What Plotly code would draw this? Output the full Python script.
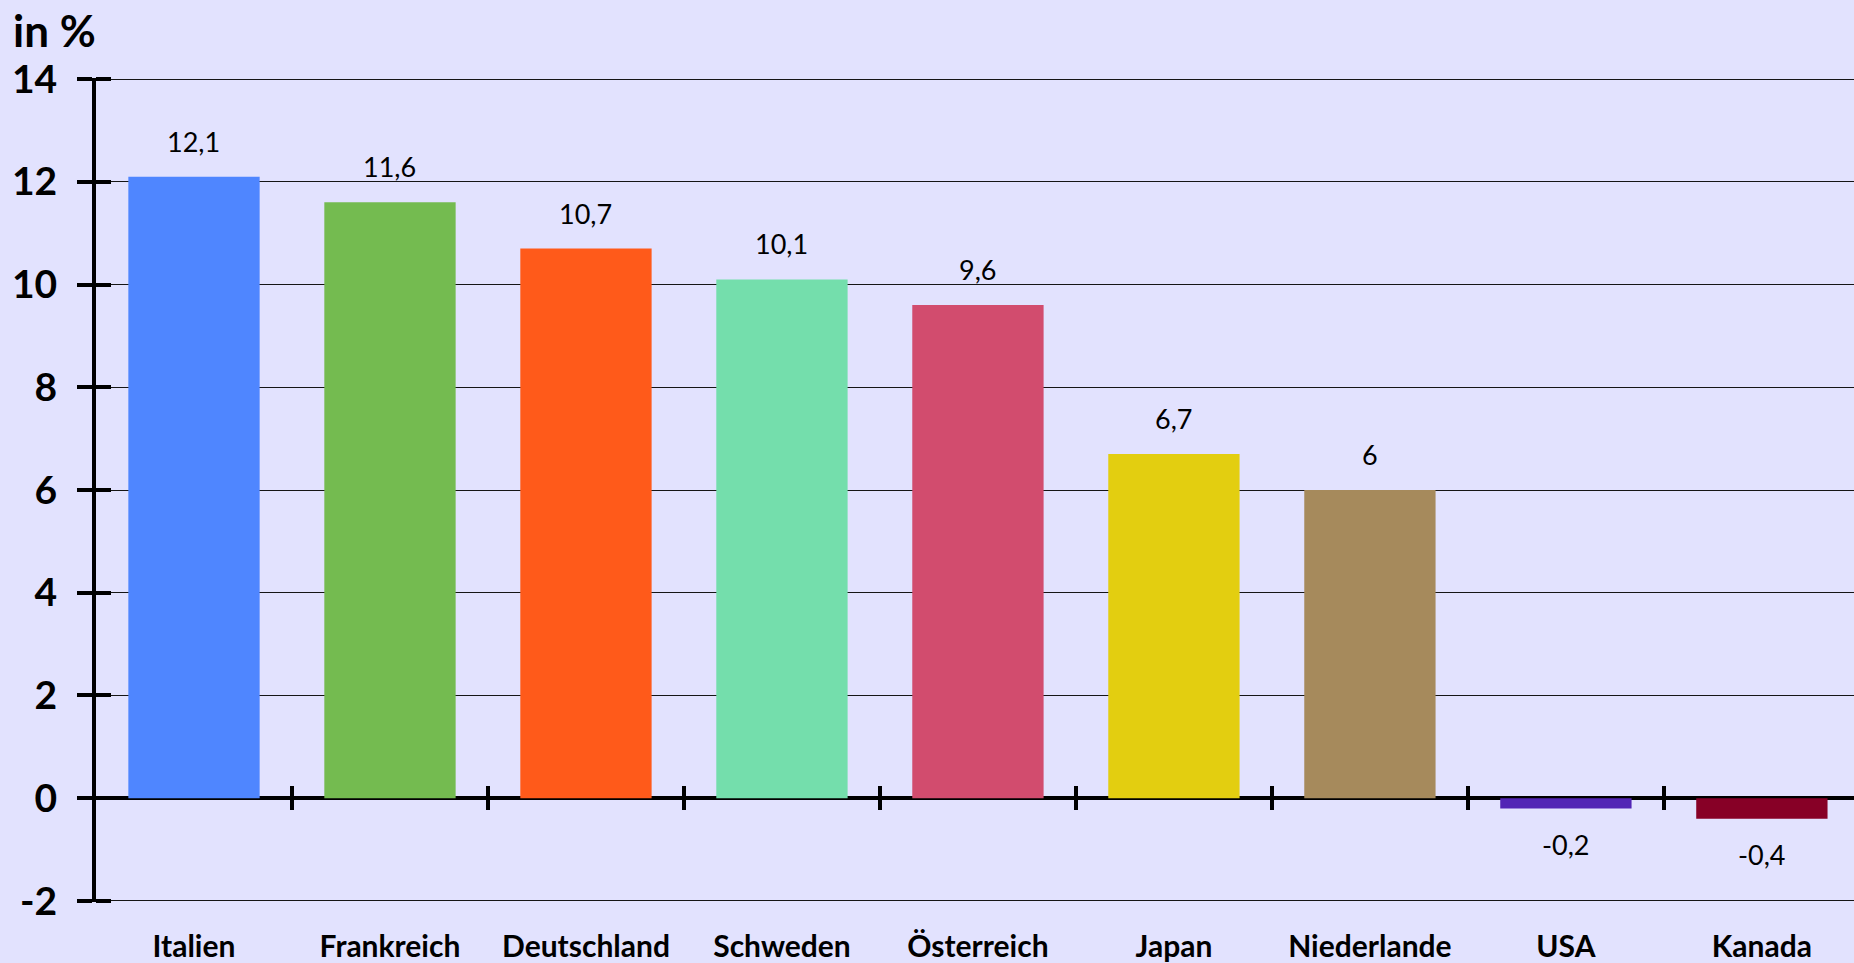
import plotly.graph_objects as go

categories = ["Italien", "Frankreich", "Deutschland", "Schweden", "Österreich",
              "Japan", "Niederlande", "USA", "Kanada"]
values = [12.1, 11.6, 10.7, 10.1, 9.6, 6.7, 6.0, -0.2, -0.4]
colors = ["#4F86FF", "#74BB50", "#FF5A1A", "#74DEAC", "#D24C6E",
          "#E3CE10", "#A68A5C", "#5225B5", "#870026"]
y_ticks = [-2, 0, 2, 4, 6, 8, 10, 12, 14]
y_title = "in %"

BG = "#E2E2FE"
FONT = "Lato, 'Open Sans', sans-serif"

def fmt(v):
    s = ("%g" % v).replace(".", ",")
    return s

n = len(categories)
xr = [-0.5, n - 0.53]
yr = [-2.02, 14.02]
ypos0 = (0 - yr[0]) / (yr[1] - yr[0])
boundaries = [i + 0.5 for i in range(n - 1)]

fig = go.Figure()
fig.add_trace(go.Bar(x=list(range(n)), y=values, marker_color=colors, width=0.67,
                     marker_line_width=0, hoverinfo="skip"))
# helper empty traces so overlay axes are drawn
fig.add_trace(go.Scatter(x=[None], y=[None], xaxis="x2", yaxis="y", showlegend=False))
fig.add_trace(go.Scatter(x=[None], y=[None], xaxis="x3", yaxis="y", showlegend=False))
fig.add_trace(go.Scatter(x=[None], y=[None], xaxis="x", yaxis="y2", showlegend=False))

for i, v in enumerate(values):
    fig.add_annotation(x=i, y=v, text=fmt(v), showarrow=False,
                       yanchor="bottom" if v >= 0 else "top",
                       yshift=17 if v >= 0 else -17,
                       font=dict(family=FONT, size=27, color="black"))

fig.add_annotation(xref="paper", yref="paper", x=0, y=1, xanchor="left", yanchor="bottom",
                   xshift=-85, yshift=20, text="<b>%s</b>" % y_title, showarrow=False,
                   font=dict(family=FONT, size=44, color="black"))

fig.update_layout(
    width=1854, height=963,
    margin=dict(l=96, r=0, t=78, b=61),
    paper_bgcolor=BG, plot_bgcolor=BG,
    showlegend=False, bargap=0.33,
    xaxis=dict(range=xr, tickvals=list(range(n)), ticktext=["<b>%s</b>" % c for c in categories],
               ticks="", showgrid=False, zeroline=False, showline=False,
               tickfont=dict(family=FONT, size=30, color="black"), ticklabelstandoff=24),
    xaxis2=dict(range=xr, overlaying="x", anchor="free", position=ypos0, side="bottom",
                tickvals=boundaries, ticks="outside", ticklen=11, tickwidth=4, tickcolor="black",
                showticklabels=False, showgrid=False, zeroline=False, showline=False),
    xaxis3=dict(range=xr, overlaying="x", anchor="free", position=ypos0, side="bottom",
                tickvals=boundaries, ticks="inside", ticklen=12, tickwidth=4, tickcolor="black",
                showticklabels=False, showgrid=False, zeroline=False, showline=False),
    yaxis=dict(range=yr, tickvals=y_ticks, ticktext=["<b>%d</b>" % t for t in y_ticks],
               ticks="outside", ticklen=15, tickwidth=4, tickcolor="black",
               showline=True, linewidth=4, linecolor="black",
               showgrid=True, gridcolor="#151515", gridwidth=1.2,
               zeroline=True, zerolinecolor="black", zerolinewidth=4,
               tickfont=dict(family=FONT, size=39, color="black"), ticklabelstandoff=12),
    yaxis2=dict(range=yr, overlaying="y", anchor="x", side="left", tickvals=y_ticks,
                ticks="inside", ticklen=15, tickwidth=4, tickcolor="black",
                showticklabels=False, showgrid=False, zeroline=False, showline=False),
)

fig.write_html("out.html", config={"displayModeBar": False},
               post_script="document.body.style.margin='0';document.body.style.overflow='hidden';")
